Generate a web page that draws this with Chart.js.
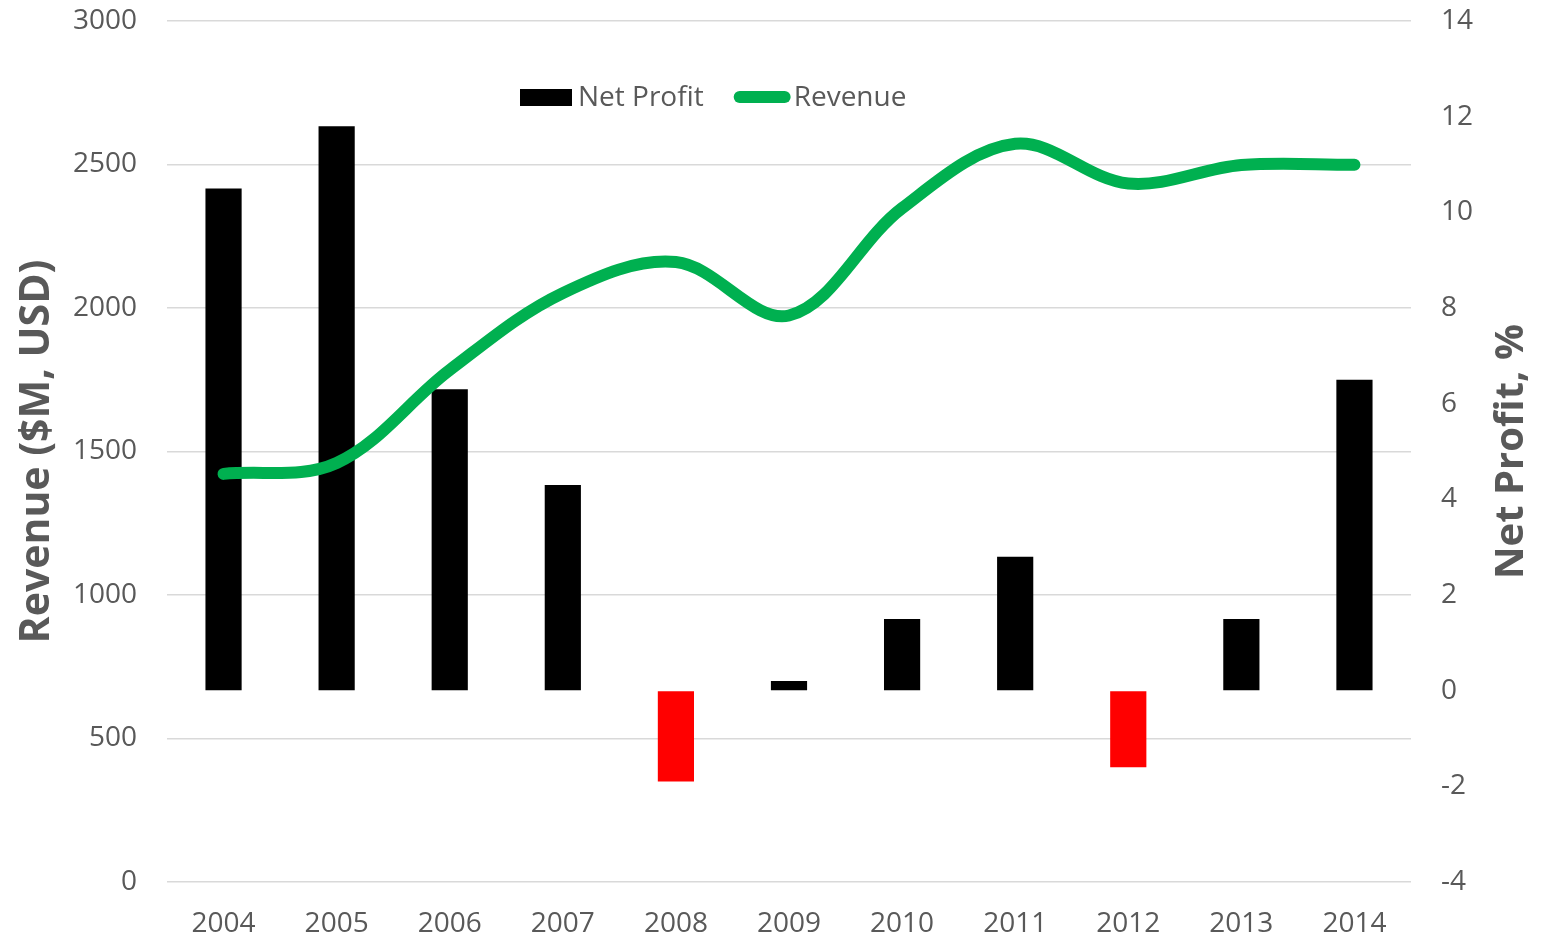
<!DOCTYPE html>
<html>
<head>
<meta charset="utf-8">
<script src="https://cdn.jsdelivr.net/npm/chart.js@4.4.1/dist/chart.umd.min.js"></script>
<style>
  body { margin: 0; background: #fff; }
  #wrap { width: 1562px; height: 938px; }
</style>
</head>
<body>
<div id="wrap"><canvas id="myChart"></canvas></div>
<script>
// data
const years = ['2004', '2005', '2006', '2007', '2008', '2009', '2010', '2011', '2012', '2013', '2014'];
const revenue = [1422, 1460, 1784, 2052, 2160, 1974, 2348, 2572, 2434, 2498, 2499]; // $M
const netProfit = [10.5, 11.8, 6.3, 4.3, -1.9, 0.2, 1.5, 2.8, -1.6, 1.5, 6.5]; // %

const revenueTicks = { min: 0, max: 3000, step: 500 };
const profitTicks = { min: -4, max: 14, step: 2 };

const textColor = '#595959';
const gridColor = '#D9D9D9';
const fontFamily = '"Open Sans", "Noto Sans", sans-serif';

// legend sits inside the plot, so it is drawn by hand
const insideLegend = {
  id: 'insideLegend',
  afterDraw(chart) {
    const ctx = chart.ctx;
    const y = 98;
    let x = 520;
    ctx.save();
    ctx.font = '28px ' + fontFamily;
    ctx.textBaseline = 'middle';
    chart.data.datasets.forEach((ds) => {
      if (ds.type === 'line') {
        ctx.strokeStyle = ds.borderColor;
        ctx.lineWidth = ds.borderWidth;
        ctx.lineCap = 'round';
        ctx.beginPath();
        ctx.moveTo(x + 6, y - 1);
        ctx.lineTo(x + 51, y - 1);
        ctx.stroke();
        x += 60;
      } else {
        ctx.fillStyle = '#000000';
        ctx.fillRect(x, y - 9, 52, 17);
        x += 58;
      }
      ctx.fillStyle = textColor;
      ctx.fillText(ds.label, x, y);
      x += ctx.measureText(ds.label).width + 30;
    });
    ctx.restore();
  }
};

// right title reads bottom to top like the left one
const rightTitle = {
  id: 'rightTitle',
  afterDraw(chart) {
    const ctx = chart.ctx;
    const area = chart.chartArea;
    ctx.save();
    ctx.translate(chart.scales.y1.right - 50, (area.top + area.bottom) / 2);
    ctx.rotate(-Math.PI / 2);
    ctx.font = 'bold 40px ' + fontFamily;
    ctx.fillStyle = textColor;
    ctx.textAlign = 'center';
    ctx.textBaseline = 'middle';
    ctx.fillText('Net Profit, %', 0, 0);
    ctx.restore();
  }
};

const noPad = (scale, width) => {
  scale.width = width;
  scale.paddingTop = 0;
  scale.paddingBottom = 0;
};

new Chart(document.getElementById('myChart'), {
  data: {
    labels: years,
    datasets: [
      {
        type: 'bar',
        label: 'Net Profit',
        data: netProfit,
        yAxisID: 'y1',
        backgroundColor: netProfit.map(v => v < 0 ? '#FF0000' : '#000000'),
        barPercentage: 0.32,
        categoryPercentage: 1.0,
        order: 1,
      },
      {
        type: 'line',
        label: 'Revenue',
        data: revenue,
        yAxisID: 'y',
        borderColor: '#00B050',
        backgroundColor: '#00B050',
        borderWidth: 12,
        borderCapStyle: 'round',
        borderJoinStyle: 'round',
        pointRadius: 0,
        tension: 0.35,
        fill: false,
        order: 0,
      },
    ],
  },
  options: {
    responsive: true,
    maintainAspectRatio: false,
    animation: false,
    layout: { padding: { top: 21, left: 0, right: 0, bottom: 0 } },
    plugins: {
      legend: { display: false },
      tooltip: { enabled: false },
    },
    scales: {
      x: {
        grid: { display: false, drawTicks: false },
        border: { display: false },
        ticks: { color: textColor, font: { family: fontFamily, size: 28 }, padding: 25, maxRotation: 0 },
        afterFit: (scale) => { scale.height = 56; },
      },
      y: {
        position: 'left',
        min: revenueTicks.min,
        max: revenueTicks.max,
        grid: { color: gridColor, lineWidth: 1.5, drawTicks: false },
        border: { display: false },
        ticks: {
          stepSize: revenueTicks.step,
          color: textColor,
          font: { family: fontFamily, size: 28 },
          padding: 30,
          callback: (v) => String(v),
        },
        title: {
          display: true,
          text: 'Revenue ($M, USD)',
          color: textColor,
          font: { family: fontFamily, size: 41, weight: 'bold' },
          padding: { top: 13, bottom: 0 },
        },
        afterFit: (scale) => noPad(scale, 167),
      },
      y1: {
        position: 'right',
        min: profitTicks.min,
        max: profitTicks.max,
        grid: { drawOnChartArea: false, drawTicks: false },
        border: { display: false },
        ticks: {
          stepSize: profitTicks.step,
          color: textColor,
          font: { family: fontFamily, size: 28 },
          padding: 30,
          callback: (v) => String(v),
        },
        afterFit: (scale) => noPad(scale, 151),
      },
    },
  },
  plugins: [insideLegend, rightTitle],
});
</script>
</body>
</html>
